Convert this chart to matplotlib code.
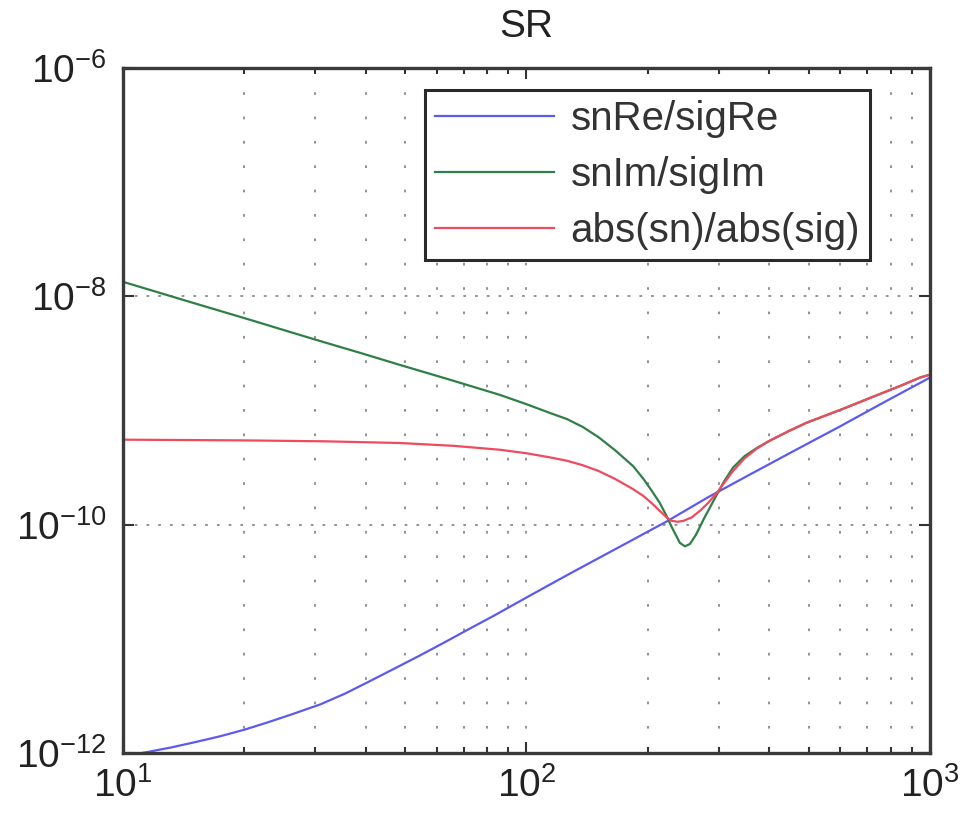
import matplotlib
matplotlib.use("Agg")
import matplotlib.pyplot as plt
from matplotlib.ticker import LogLocator, LogFormatterMathtext, NullLocator, NullFormatter


# ==========================
# Data
# ==========================
x_blue = [10, 11.5, 13.2, 15.1, 17.4, 20.0, 22.9, 26.3, 30.8, 35.5, 40.7,
          46.8, 54.5, 63.1, 72.4, 83.2, 96.4, 111, 128, 170, 223, 282, 358,
          457, 598, 759, 944, 1000]
y_blue = [9.33e-13, 1.02e-12, 1.12e-12, 1.245e-12, 1.40e-12, 1.60e-12,
          1.86e-12, 2.19e-12, 2.66e-12, 3.31e-12, 4.22e-12, 5.43e-12, 7.16e-12,
          9.44e-12, 1.23e-11, 1.60e-11, 2.14e-11, 2.82e-11, 3.72e-11, 6.38e-11,
          1.07e-10, 1.74e-10, 2.75e-10, 4.37e-10, 7.24e-10, 1.15e-9, 1.74e-9,
          1.94e-9]

x_green = [10, 15.0, 20.7, 26.0, 31.6, 38.9, 48.5, 64.6, 85.9, 100, 114, 126,
           138, 151, 166, 184, 195, 204, 214, 223, 229, 240, 247, 254, 263,
           275, 295, 309, 325, 347, 372, 398, 447, 495, 603, 723, 851, 944, 1000]
y_green = [1.34e-8, 8.71e-9, 6.21e-9, 4.86e-9, 3.95e-9, 3.18e-9, 2.51e-9,
           1.86e-9, 1.37e-9, 1.135e-9, 9.55e-10, 8.41e-10, 7.16e-10, 5.82e-10,
           4.47e-10, 3.24e-10, 2.51e-10, 2.0e-10, 1.55e-10, 1.17e-10, 9.55e-11,
           6.92e-11, 6.46e-11, 6.76e-11, 8.13e-11, 1.12e-10, 1.78e-10, 2.40e-10,
           3.16e-10, 3.98e-10, 4.68e-10, 5.37e-10, 6.61e-10, 7.82e-10, 1.02e-9,
           1.32e-9, 1.66e-9, 1.94e-9, 2.06e-9]

x_red = [10, 20.0, 31.6, 48.5, 66.1, 85.9, 100, 114, 126, 138, 151, 166, 184,
         195, 204, 214, 223, 229, 237, 245, 257, 269, 282, 295, 309, 325, 347,
         372, 398, 447, 495, 603, 723, 851, 944, 1000]
y_red = [5.55e-10, 5.47e-10, 5.37e-10, 5.19e-10, 4.90e-10, 4.53e-10, 4.22e-10,
         3.89e-10, 3.63e-10, 3.31e-10, 2.95e-10, 2.51e-10, 2.04e-10, 1.78e-10,
         1.55e-10, 1.32e-10, 1.15e-10, 1.08e-10, 1.06e-10, 1.08e-10, 1.16e-10,
         1.32e-10, 1.55e-10, 1.86e-10, 2.32e-10, 2.95e-10, 3.80e-10, 4.62e-10,
         5.37e-10, 6.61e-10, 7.82e-10, 1.02e-9, 1.32e-9, 1.66e-9, 1.94e-9,
         2.06e-9]

labels = ["snRe/sigRe", "snIm/sigIm", "abs(sn)/abs(sig)"]
colors = ["#5b5bef", "#2f7f47", "#f04a5e"]

x_ticks = [10, 100, 1000]
y_ticks = [1e-12, 1e-10, 1e-8, 1e-6]


# ==========================
# Style
# ==========================
plt.rcParams["font.family"] = ["Liberation Sans", "DejaVu Sans"]
plt.rcParams["mathtext.default"] = "regular"


def main():
    fig = plt.figure(figsize=(9.63, 8.26), dpi=100)
    ax = fig.add_axes([0.1277, 0.0884, 0.838, 0.8293])

    for xs, ys, lab, col in zip([x_blue, x_green, x_red],
                                [y_blue, y_green, y_red], labels, colors):
        ax.plot(xs, ys, color=col, lw=1.6, label=lab)

    ax.set_xscale("log")
    ax.set_yscale("log")
    ax.set_xlim(10, 1000)
    ax.set_ylim(1e-12, 1e-6)

    ax.set_xticks(x_ticks)
    ax.set_yticks(y_ticks)
    ax.xaxis.set_major_formatter(LogFormatterMathtext())
    ax.yaxis.set_major_formatter(LogFormatterMathtext())
    ax.xaxis.set_minor_locator(LogLocator(base=10, subs=range(2, 10)))
    ax.xaxis.set_minor_formatter(NullFormatter())
    ax.yaxis.set_minor_locator(NullLocator())

    ax.tick_params(which="both", direction="in", top=True, right=True,
                   width=1.5, colors="#333333", labelcolor="#222222")
    ax.tick_params(which="major", length=8, labelsize=28)
    ax.tick_params(which="minor", length=4)
    ax.tick_params(axis="x", pad=10)
    ax.tick_params(axis="y", pad=12)

    # dotted grid, vertical lines also at minor positions
    ax.xaxis.grid(True, which="both", ls=(0, (1.5, 12)), lw=1.3, color="#8a8a8a")
    ax.yaxis.grid(True, which="major", ls=(0, (1.5, 5)), lw=1.3, color="#8a8a8a")

    for sp in ax.spines.values():
        sp.set_linewidth(2.4)
        sp.set_color("#3a3a3a")

    ax.set_title("SR", fontsize=28, pad=22, color="#222222")

    leg = ax.legend(loc="upper right", bbox_to_anchor=(0.926, 0.968),
                    borderaxespad=0, fontsize=29, fancybox=False,
                    framealpha=1, edgecolor="#2a2a2a", handlelength=2.95,
                    handletextpad=0.42, labelspacing=0.45, borderpad=0.25)
    leg.get_frame().set_linewidth(2.2)
    for t in leg.get_texts():
        t.set_color("#333333")

    fig.savefig("out.png", dpi=100)
    plt.close(fig)


if __name__ == "__main__":
    main()
